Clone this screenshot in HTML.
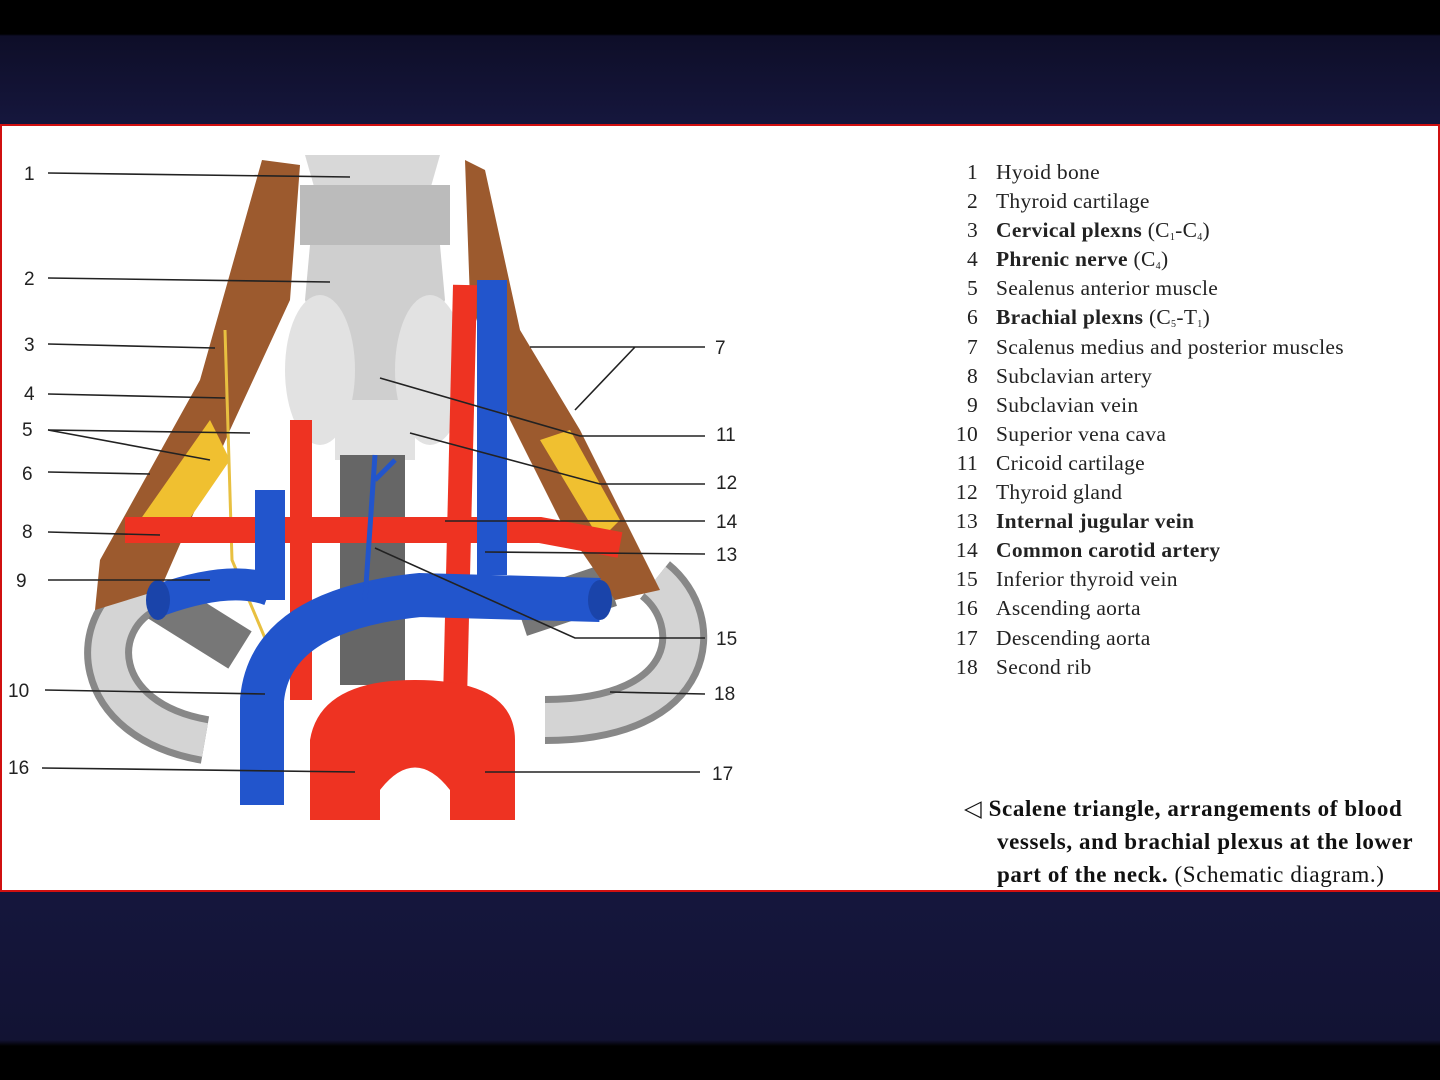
<!DOCTYPE html>
<html><head><meta charset="utf-8"><style>
html,body{margin:0;padding:0;width:1440px;height:1080px;overflow:hidden;background:#000}
.bg{position:absolute;left:0;top:0;width:1440px;height:1080px;background:linear-gradient(#000 0,#000 34px,#0e0e28 36px,#15163c 120px,#15163c 900px,#121333 1040px,#000 1046px,#000 100%)}
.panel{position:absolute;left:0;top:124px;width:1436px;height:764px;background:#fff;border:2px solid #d01010}
.leg{position:absolute;left:950px;top:158px;font-family:"Liberation Serif",serif;font-size:21.5px;color:#222;line-height:29.1px;letter-spacing:0.3px}
.leg div{white-space:nowrap;height:29.1px}
.leg span.n{display:inline-block;width:28px;text-align:right;margin-right:18px}
.leg sub{font-size:10px;line-height:0;vertical-align:-3px}
.cap{position:absolute;left:964px;top:792px;font-family:"Liberation Serif",serif;font-size:23px;line-height:33px;color:#111;letter-spacing:0.6px;white-space:nowrap}
</style></head><body>
<div class="bg"></div>
<div class="panel"></div>
<svg style="position:absolute;left:0;top:0" width="1440" height="1080">
<!-- ribs -->
<path d="M150,590 C85,620 90,720 205,740" stroke="#888" stroke-width="48" fill="none"/>
<path d="M150,590 C85,620 90,720 205,740" stroke="#d4d4d4" stroke-width="34" fill="none"/>
<path d="M655,580 C705,620 700,720 545,720" stroke="#888" stroke-width="48" fill="none"/>
<path d="M655,580 C705,620 700,720 545,720" stroke="#d4d4d4" stroke-width="34" fill="none"/>
<path d="M160,600 L240,650" stroke="#777" stroke-width="44"/>
<path d="M520,615 L610,585" stroke="#777" stroke-width="44"/>
<!-- muscles -->
<polygon points="262,160 300,165 290,300 230,430 160,590 95,610 100,560 200,380" fill="#9c5a2e"/>
<polygon points="465,160 485,170 520,330 580,430 660,590 615,600 560,520 510,420 470,300" fill="#9c5a2e"/>
<polygon points="140,520 210,420 230,460 175,540" fill="#f0c030"/>
<polygon points="540,440 570,430 620,520 600,540" fill="#f0c030"/>
<path d="M225,330 L232,560 L270,650" stroke="#e8c040" stroke-width="3" fill="none"/>
<!-- larynx -->
<path d="M305,155 L440,155 L430,190 L315,190 Z" fill="#d8d8d8"/>
<rect x="300" y="185" width="150" height="60" fill="#bbb"/>
<path d="M310,245 L440,245 L445,300 L400,420 L350,420 L305,300 Z" fill="#cfcfcf"/>
<ellipse cx="320" cy="370" rx="35" ry="75" fill="#e2e2e2"/>
<ellipse cx="430" cy="370" rx="35" ry="75" fill="#e2e2e2"/>
<rect x="335" y="400" width="80" height="60" fill="#e2e2e2"/>
<rect x="340" y="455" width="65" height="230" fill="#666"/>
<!-- arteries -->
<rect x="290" y="420" width="22" height="280" fill="#ee3322"/>
<path d="M465,285 L455,700" stroke="#ee3322" stroke-width="24"/>
<path d="M125,530 L540,530 L620,545" stroke="#ee3322" stroke-width="26" fill="none"/>
<path d="M310,820 L310,740 Q320,680 415,680 Q515,680 515,740 L515,820 L450,820 L450,790 Q415,745 380,790 L380,820 Z" fill="#ee3322"/>
<!-- veins -->
<path d="M160,600 Q230,575 270,590" stroke="#2255cc" stroke-width="32" fill="none"/>
<path d="M270,490 L270,600" stroke="#2255cc" stroke-width="30"/>
<path d="M262,805 L262,700 Q270,610 420,595 L600,600" stroke="#2255cc" stroke-width="44" fill="none"/>
<path d="M492,280 L492,575" stroke="#2255cc" stroke-width="30"/>
<path d="M375,455 L365,600 M375,480 L395,460" stroke="#2255cc" stroke-width="5" fill="none"/>
<ellipse cx="600" cy="600" rx="12" ry="20" fill="#1a44aa"/>
<ellipse cx="158" cy="600" rx="12" ry="20" fill="#1a44aa"/>
<!-- leader lines -->
<g stroke="#222" stroke-width="1.6" fill="none">
<path d="M48,173 L350,177"/><path d="M48,278 L330,282"/><path d="M48,344 L215,348"/>
<path d="M48,394 L225,398"/><path d="M48,430 L250,433 M48,430 L210,460"/><path d="M48,472 L150,474"/>
<path d="M48,532 L160,535"/><path d="M48,580 L210,580"/><path d="M45,690 L265,694"/>
<path d="M42,768 L355,772"/><path d="M530,347 L705,347 M635,347 L575,410"/>
<path d="M380,378 L580,436 L705,436"/><path d="M410,433 L600,484 L705,484"/>
<path d="M445,521 L705,521"/><path d="M485,552 L705,554"/><path d="M375,548 L575,638 L705,638"/>
<path d="M610,692 L705,694"/><path d="M485,772 L700,772"/>
</g>
<g font-family="Liberation Sans,sans-serif" font-size="19" fill="#222">
<text x="24" y="180">1</text><text x="24" y="285">2</text><text x="24" y="351">3</text><text x="24" y="400">4</text>
<text x="22" y="436">5</text><text x="22" y="480">6</text><text x="22" y="538">8</text><text x="16" y="587">9</text>
<text x="8" y="697">10</text><text x="8" y="774">16</text><text x="715" y="354">7</text><text x="716" y="441">11</text>
<text x="716" y="489">12</text><text x="716" y="528">14</text><text x="716" y="561">13</text><text x="716" y="645">15</text>
<text x="714" y="700">18</text><text x="712" y="780">17</text>
</g>
</svg>
<div class="leg">
<div><span class="n">1</span>Hyoid bone</div>
<div><span class="n">2</span>Thyroid cartilage</div>
<div><span class="n">3</span><b>Cervical plexns</b> (C<sub>1</sub>-C<sub>4</sub>)</div>
<div><span class="n">4</span><b>Phrenic nerve</b> (C<sub>4</sub>)</div>
<div><span class="n">5</span>Sealenus anterior muscle</div>
<div><span class="n">6</span><b>Brachial plexns</b> (C<sub>5</sub>-T<sub>1</sub>)</div>
<div><span class="n">7</span>Scalenus medius and posterior muscles</div>
<div><span class="n">8</span>Subclavian artery</div>
<div><span class="n">9</span>Subclavian vein</div>
<div><span class="n">10</span>Superior vena cava</div>
<div><span class="n">11</span>Cricoid cartilage</div>
<div><span class="n">12</span>Thyroid gland</div>
<div><span class="n">13</span><b>Internal jugular vein</b></div>
<div><span class="n">14</span><b>Common carotid artery</b></div>
<div><span class="n">15</span>Inferior thyroid vein</div>
<div><span class="n">16</span>Ascending aorta</div>
<div><span class="n">17</span>Descending aorta</div>
<div><span class="n">18</span>Second rib</div>
</div>
<div class="cap"><div>◁ <b>Scalene triangle, arrangements of blood</b></div><div style="padding-left:33px"><b>vessels, and brachial plexus at the lower</b></div><div style="padding-left:33px"><b>part of the neck.</b> (Schematic diagram.)</div></div>
</body></html>
